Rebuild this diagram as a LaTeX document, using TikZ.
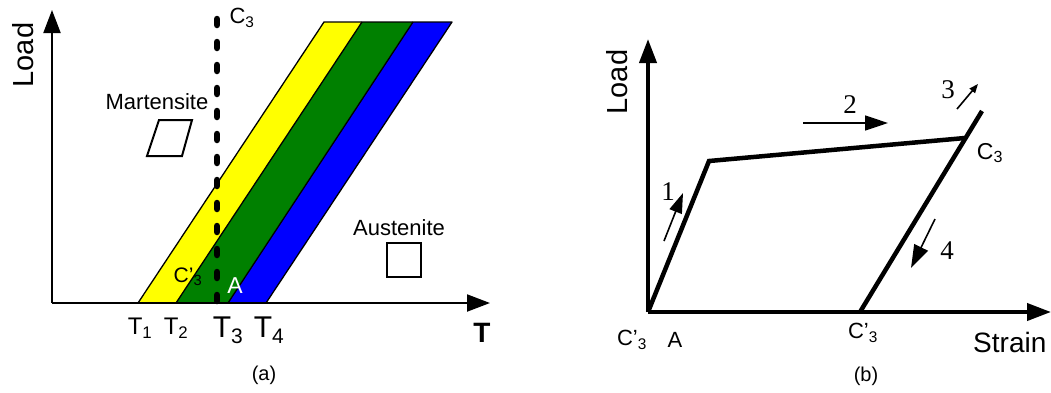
\documentclass[tikz,border=0pt]{standalone}
\usepackage{fontspec}
\setmainfont{Liberation Sans}
\newfontfamily\numfont{Liberation Serif}
\usetikzlibrary{arrows.meta}
\definecolor{bandyellow}{RGB}{255,255,0}
\definecolor{bandgreen}{RGB}{0,128,0}
\definecolor{bandblue}{RGB}{0,0,255}
\newcommand{\fsz}[1]{\fontsize{#1}{#1}\selectfont}

\begin{document}
\begin{tikzpicture}[x=1pt, y=-1pt,
  axis/.style={-{Triangle[length=23pt,width=17pt]}, line width=2pt},
  heavyaxis/.style={-{Triangle[length=24pt,width=17pt]}, line width=4pt},
  band/.style={draw=black, line width=1.3pt, line join=round},
  curve/.style={line width=4.5pt, line join=miter},
  steparrow/.style={-{Triangle[length=20pt,width=13pt]}, line width=1.6pt},
  lbl/.style={font=\fsz{22}, inner sep=0pt},
  numlbl/.style={font=\numfont\fsz{27}, inner sep=0pt}
]
\useasboundingbox (0,0) rectangle (1051,392);

% ---- (a) phase diagram
\coordinate (Oa) at (52,303);
\coordinate (Ya) at (52,10);
\coordinate (Xa) at (490,303);

\fill[bandyellow] (138,303) -- (176,303) -- (362,22) -- (324,22) -- cycle;
\fill[bandgreen]  (176,303) -- (228,303) -- (413,22) -- (362,22) -- cycle;
\fill[bandblue]   (228,303) -- (266,303) -- (452,22) -- (413,22) -- cycle;
\draw[band] (138,303) -- (324,22) -- (452,22) -- (266,303);
\draw[band] (176,303) -- (362,22);
\draw[band] (228,303) -- (413,22);

\draw[axis] (Oa) -- (Ya);
\draw[axis] (Oa) -- (Xa);

\draw[line width=6.5pt, line cap=round, dash pattern=on 6pt off 17pt]
  (217,19) -- (217,303);

\draw[line width=2pt] (147,156) -- (182,156) -- (192,120) -- (159,120) -- cycle;
\draw[line width=2pt] (387,243) rectangle (421,277);

\node[lbl, rotate=90, font=\fsz{29}] (loada) at (23,55) {Load};
\node[lbl] (c3a) at (242,18) {C\textsubscript{3}};
\node[lbl] (mart) at (157,102) {Martensite};
\node[lbl] (aust) at (399,228) {Austenite};
\node[lbl, font=\fsz{21}] (c3pa) at (188,277) {C’\textsubscript{3}};
\node[lbl, text=white, font=\fsz{23}] (aa) at (235,286) {A};
\node[lbl, font=\fsz{24}] (t1) at (140,328) {T\textsubscript{1}};
\node[lbl, font=\fsz{24}] (t2) at (176,328) {T\textsubscript{2}};
\node[lbl, font=\fsz{30}] (t3) at (228,330) {T\textsubscript{3}};
\node[lbl, font=\fsz{30}] (t4) at (269,330) {T\textsubscript{4}};
\node[lbl, font=\fsz{28}\bfseries] (tax) at (482,333) {T};
\node[lbl, font=\fsz{20}] (capa) at (264,375) {(a)};

% ---- (b) load--strain path
\coordinate (Ob) at (648,312);
\coordinate (Yb) at (648,39);
\coordinate (Xb) at (1051,312);
\coordinate (knee) at (709,161);
\coordinate (c3) at (965,138);
\coordinate (c3p) at (860,312);
\coordinate (top) at (982,111);

\draw[heavyaxis] (Ob) -- (Yb);
\draw[heavyaxis] (Ob) -- (Xb);
\draw[curve] (Ob) -- (knee) -- (c3);
\draw[curve] (c3p) -- (top);

\coordinate (s1a) at (664,241); \coordinate (s1b) at (683,193);
\coordinate (s2a) at (803,123); \coordinate (s2b) at (888,123);
\coordinate (s3a) at (957,109); \coordinate (s3b) at (978,84);
\coordinate (s4a) at (935,219); \coordinate (s4b) at (911,268);
\draw[steparrow] (s1a) -- (s1b);
\draw[steparrow, -{Triangle[length=23pt,width=15pt]}] (s2a) -- (s2b);
\draw[steparrow, -{Triangle[length=9pt,width=7pt]}] (s3a) -- (s3b);
\draw[steparrow, -{Triangle[length=23pt,width=15pt]}] (s4a) -- (s4b);

\node[numlbl] (n1) at (668,192) {1};
\node[numlbl] (n2) at (850,105) {2};
\node[numlbl] (n3) at (948,90) {3};
\node[numlbl] (n4) at (947,251) {4};

\node[lbl, rotate=90, font=\fsz{29}] (loadb) at (617,82) {Load};
\node[lbl, font=\fsz{23}] (c3b) at (990,153) {C\textsubscript{3}};
\node[lbl] (c3pb) at (863,333) {C’\textsubscript{3}};
\node[lbl] (c3pc) at (632,340) {C’\textsubscript{3}};
\node[lbl] (ab) at (675,340) {A};
\node[lbl, font=\fsz{28}, anchor=west] (strain) at (973,342) {Strain};
\node[lbl, font=\fsz{20}] (capb) at (866,376) {(b)};
\end{tikzpicture}
\end{document}
